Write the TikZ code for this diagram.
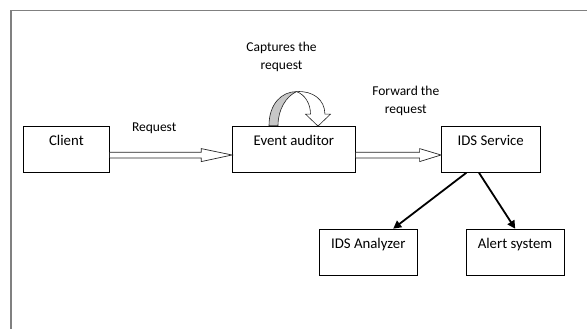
\documentclass[tikz,border=0pt]{standalone}
\usepackage{fontspec}
\setmainfont{Carlito}
\usetikzlibrary{calc,arrows.meta}

\tikzset{
  box/.style={draw=black, line width=0.9pt, rectangle, inner sep=0pt,
    minimum height=46.3pt, text height=10pt, text depth=16.9pt,
    font=\fontsize{14.8}{18}\selectfont},
  lbl/.style={font=\fontsize{13.5}{18}\selectfont, align=center, anchor=base, inner sep=0pt},
  hollow/.style={draw=black!85, line width=0.7pt, fill=white, line join=miter},
  pointer/.style={draw=black, line width=1.8pt, -{Triangle[length=8pt,width=8pt]}},
  frame/.style={draw=black!50, line width=1.3pt},
  twist/.style={draw=black!85, line width=0.6pt, fill=black!22},
  twistfront/.style={draw=black!85, line width=0.6pt, fill=white, line join=miter},
}

% open block arrow from the east side of #1 to the west side of #2, head length #3
\newcommand\hollowarrow[3]{%
  \draw[hollow] let \p1=(#1.east), \p2=(#2.west) in
    (\x1,\y1-3pt) -- (\x2-#3,\y1-3pt) -- (\x2-#3,\y1+0.6pt) -- (\x2,\y1-5.8pt)
    -- (\x2-#3,\y1-12.4pt) -- (\x2-#3,\y1-8.7pt) -- (\x1,\y1-8.7pt);
}

\begin{document}
\begin{tikzpicture}[x=1pt,y=-1pt]
\useasboundingbox (0,0) rectangle (587,329);

% page frame
\draw[frame] (587,10.5) -- (11,10.5) -- (11,329);

% boxes
\node[box, minimum width=85.8pt]  (client)   at (66.4,149.2)  {Client};
\node[box, minimum width=122.8pt] (auditor)  at (293.9,149.2) {Event auditor};
\node[box, minimum width=98.5pt]  (service)  at (490.7,149.2) {IDS Service};
\node[box, minimum width=98pt]    (analyzer) at (368.3,252.3) {IDS Analyzer};
\node[box, minimum width=98.1pt]  (alert)    at (515,252.3)   {Alert system};

% open block arrows
\hollowarrow{client}{auditor}{30.8pt}
\hollowarrow{auditor}{service}{21.4pt}

% curved arrow on top of the event auditor
\begin{scope}[shift={(auditor.north)}]
  \draw[twist] (-24.9,0) .. controls (-24.9,-22) and (-12,-34) .. (2.6,-34)
    .. controls (-8,-29) and (-15.9,-16) .. (-15.9,0) -- cycle;
  \draw[twistfront] (2.6,-34) .. controls (19,-35) and (31,-26) .. (31,-11.5)
    -- (36.6,-11.5) -- (24.1,0.5) -- (11.6,-11.5) -- (16.6,-11.5)
    .. controls (16.6,-22) and (11,-31) .. (2.6,-34) -- cycle;
\end{scope}

% solid arrows from the IDS service
\draw[pointer] ($(service.south)+(-24.4,0)$) -- ($(analyzer.north)+(24.9,0)$);
\draw[pointer] ($(service.south)+(-11.7,0)$) -- ($(alert.north)+(0.2,0)$);

% labels (two-line labels sit on the baseline of their last line)
\node[lbl] (lreq) at (154.2,131.7) {Request};
\node[lbl] (lcap) at (281.5,69.5) {Captures the\\request};
\node[lbl] (lfwd) at (405.8,113.2) {Forward the\\request};
\end{tikzpicture}
\end{document}
